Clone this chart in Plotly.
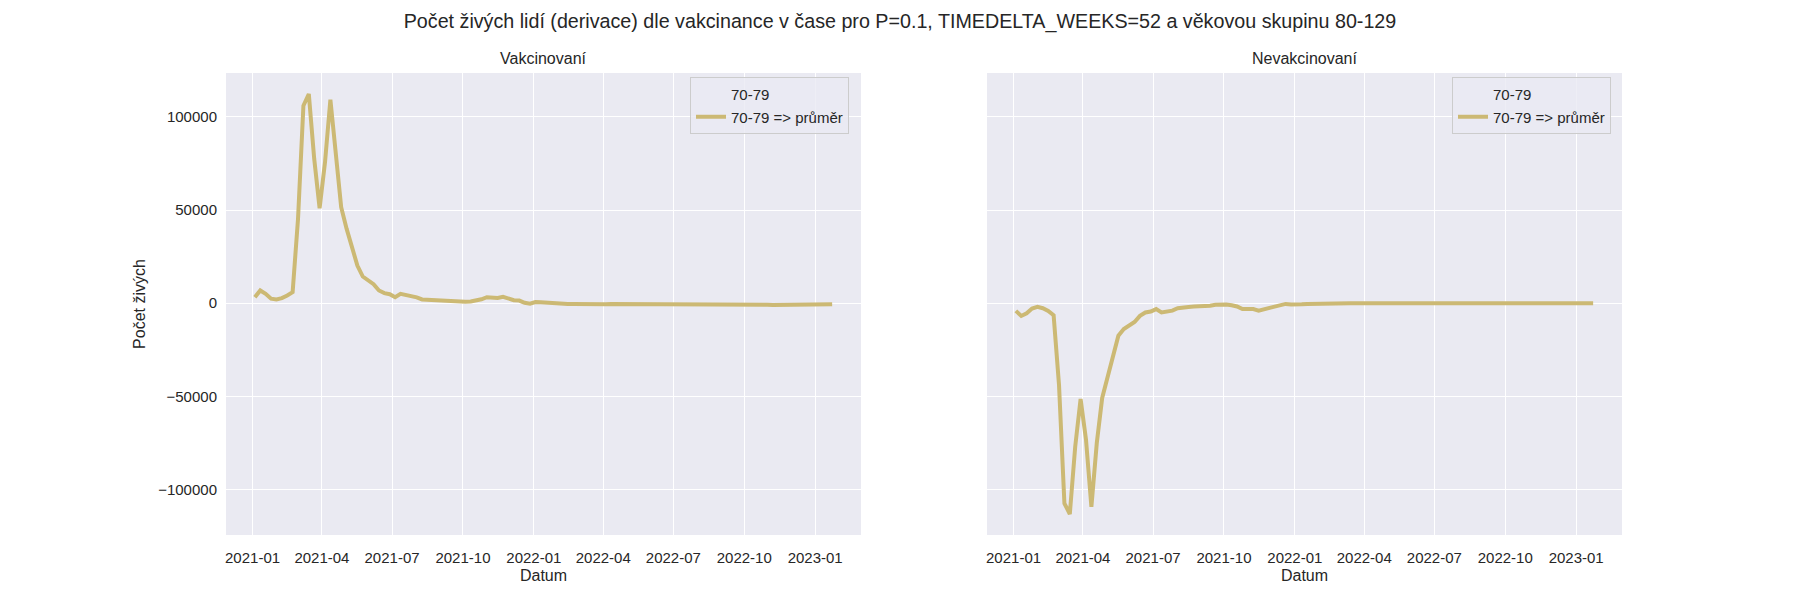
## Weekly derivative of living people by vaccination status, two panels side by side
import pandas as pd
import plotly.graph_objects as go

weeks = pd.date_range("2021-01-04", periods=108, freq="7D")

vaccinated = [
    3200, 6800, 5000, 2400, 2000, 2700, 4100, 5900, 45300, 106000,
    112300, 77500, 51000, 75600, 109300, 81000, 51500, 40000, 30000, 20200,
    14300, 12500, 10200, 6800, 5400, 4800, 3200, 5000, 4300, 4000,
    3100, 2000, 1800, 1600, 1400, 1400, 1200, 900, 700, 700,
    900, 1400, 2100, 3200, 3000, 2800, 3400, 2500, 1600, 1400,
    200, -300, 600, 500, 200, 0, -200, -400,
    -500, -500, -600, -500, -400, -500, -600, -600, -500, -500,
    -600, -500, -500, -400, -500, -500, -600, -500, -500, -400,
    -400, -500, -500, -600, -500, -500, -400, -500, -500, -600,
    -600, -500, -500, -600, -700, -700, -800, -900, -1000, -1000,
    -900, -900, -800, -800, -700, -700, -600, -600, -700, -600,
]

unvaccinated = [
    -4150, -6850, -5400, -2900, -2000, -2700, -4150, -6500, -44000, -107500,
    -113200, -77000, -51400, -73300, -109300, -75100, -50900, -39200, -28400, -17500,
    -13900, -12200, -10100, -6800, -5000, -4500, -3200, -5000, -4300, -4000,
    -2700, -2200, -2000, -1800, -1800, -1600, -1400, -900, -700, -700,
    -1100, -1800, -3200, -3400, -3200, -4000, -3200, -2300, -1800, -900,
    -400, -700, -900, -600, -400, -300, -200, -200,
    -150, -100, -100, -100, -100, -50, -50, -50, -50, -50,
    -50, 0, 0, -50, 0, 0, 0, 0, 0, 0,
    0, 0, 0, 0, 0, 0, 0, 0, 0, 0,
    0, 0, 0, 0, 0, 0, 0, 0, 0, 0,
    0, 0, 0, 0, 0, 0, 0, 0, 0, 0,
]

panel_titles = ["Vakcinovaní", "Nevakcinovaní"]
group = "70-79"
series_name = "70-79 => průměr"

LINE = "#CCB974"
BG = "#EAEAF2"
TXT = "#262626"
FONT = "Liberation Sans, Arial, sans-serif"

# matplotlib-like 5% padding around the data
all_vals = vaccinated + unvaccinated
lo, hi = min(all_vals), max(all_vals)
ypad = 0.05 * (hi - lo)
xpad = 0.05 * (weeks[-1] - weeks[0])
xrange_ = [weeks[0] - xpad, weeks[-1] + xpad]

fig = go.Figure()
for i, vals in enumerate([vaccinated, unvaccinated]):
    xa = "x" if i == 0 else "x2"
    ya = "y" if i == 0 else "y2"
    lg = "legend" if i == 0 else "legend2"
    # seaborn style hue header entry (no handle)
    fig.add_trace(go.Scatter(x=weeks, y=vals, mode="lines", name=group,
                             line=dict(color="rgba(0,0,0,0)", width=4),
                             xaxis=xa, yaxis=ya, legend=lg, hoverinfo="skip"))
    fig.add_trace(go.Scatter(x=weeks, y=vals, mode="lines", name=series_name,
                             line=dict(color=LINE, width=4),
                             xaxis=xa, yaxis=ya, legend=lg))

axis_common = dict(showgrid=True, gridcolor="white", gridwidth=1.3,
                   zeroline=True, zerolinecolor="white", zerolinewidth=1.3,
                   showline=False, ticks="", automargin=False,
                   tickfont=dict(size=15, color=TXT))

legend_common = dict(xanchor="right", yanchor="top",
                     bgcolor="rgba(234,234,242,0.8)", bordercolor="#CCCCCC",
                     borderwidth=1, font=dict(size=15, color=TXT),
                     tracegroupgap=0, itemwidth=30)

fig.update_layout(
    width=1800, height=600,
    margin=dict(l=0, r=0, t=0, b=0),
    paper_bgcolor="white", plot_bgcolor=BG,
    font=dict(family=FONT, color=TXT),
    showlegend=True,
    title=dict(text="Počet živých lidí (derivace) dle vakcinance v čase pro P=0.1, "
                    "TIMEDELTA_WEEKS=52 a věkovou skupinu 80-129",
               x=0.5, xanchor="center", y=1 - 21 / 600, yanchor="middle",
               font=dict(size=19.7, color=TXT)),
    xaxis=dict(domain=[226 / 1800, 861 / 1800], anchor="y", range=xrange_,
               dtick="M3", tick0="2021-01-01", tickformat="%Y-%m",
               ticklabelstandoff=12,
               title=dict(text="Datum", standoff=4, font=dict(size=16)),
               **axis_common),
    xaxis2=dict(domain=[987 / 1800, 1622 / 1800], anchor="y2", range=xrange_,
                dtick="M3", tick0="2021-01-01", tickformat="%Y-%m",
                ticklabelstandoff=12,
                title=dict(text="Datum", standoff=4, font=dict(size=16)),
                **axis_common),
    yaxis=dict(domain=[1 - 535 / 600, 1 - 73 / 600], anchor="x",
               range=[lo - ypad, hi + ypad], dtick=50000, tickformat="d",
               ticklabelstandoff=8,
               title=dict(text="Počet živých", standoff=8, font=dict(size=16)),
               **axis_common),
    yaxis2=dict(domain=[1 - 535 / 600, 1 - 73 / 600], anchor="x2",
                matches="y", showticklabels=False, dtick=50000,
                **axis_common),
    legend=dict(x=849 / 1800, y=1 - 77 / 600, **legend_common),
    legend2=dict(x=1611 / 1800, y=1 - 77 / 600, **legend_common),
)

for dom, txt in zip([(226, 861), (987, 1622)], panel_titles):
    fig.add_annotation(text=txt, xref="paper", yref="paper",
                       x=(dom[0] + dom[1]) / 2 / 1800, y=1 - 58 / 600,
                       xanchor="center", yanchor="middle", showarrow=False,
                       font=dict(size=16, color=TXT))

# page body has a default margin that would shift the fixed-size figure
fig.write_html("out.html", config={"displayModeBar": False},
               post_script="document.body.style.margin='0';")
